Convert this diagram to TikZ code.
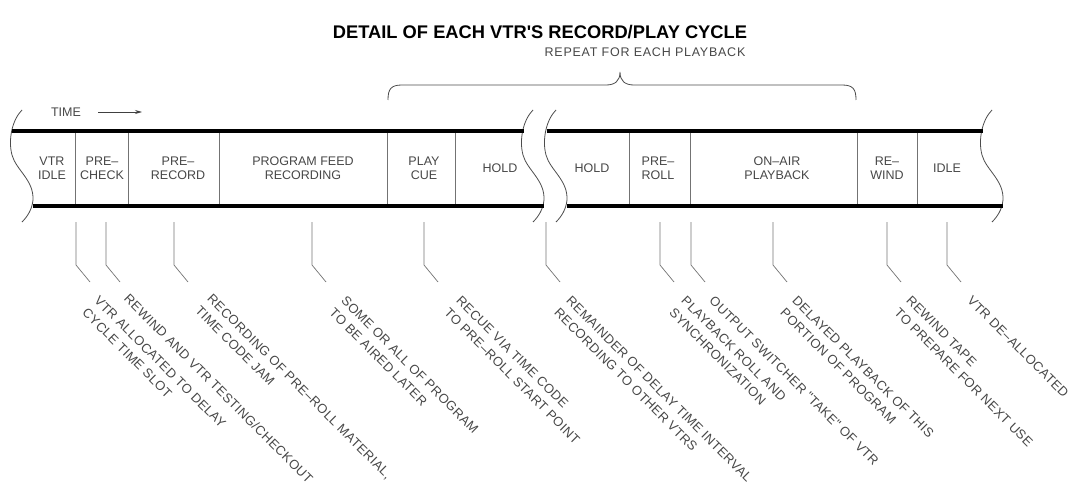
\documentclass[tikz,border=0pt]{standalone}
\usepackage{fontspec}
\setmainfont{Liberation Sans}
\newfontfamily\notefont{Liberation Sans}[LetterSpace=3]
\newfontfamily\widefont{Liberation Sans}[LetterSpace=6]
\usetikzlibrary{arrows.meta}
\newcommand\tapebreak[2]{%
  \draw[ink] (#1,110) coordinate (#2top)
    .. controls (#1-10,120) and (#1-14,140) .. (#1-10,155)
    .. controls (#1-6,170) and (#1+12,180) .. (#1+11,200)
    .. controls (#1+10,210) and (#1+5,217) .. (#1,222) coordinate (#2bot);}
\begin{document}
\begin{tikzpicture}[x=1pt,y=-1pt,
  ink/.style={draw=black!70,line width=0.8pt},
  bandline/.style={line width=3.8pt,draw=black},
  divider/.style={draw=black!55,line width=0.7pt},
  leader/.style={draw=black!55,line width=0.7pt},
  lbl/.style={font=\fontsize{12.5}{14}\selectfont,text=black!72,align=center,inner sep=0pt},
  note/.style={font=\notefont\fontsize{13}{17}\selectfont,text=black!72,align=left,rotate=-45,anchor=north west,inner sep=0pt},
  titlefont/.style={font=\fontsize{18.3}{20}\selectfont\bfseries,text=black}]
\useasboundingbox (0,0) rectangle (1074,484);

% title
\node[titlefont] (title) at (540,32) {DETAIL OF EACH VTR\textquotesingle S RECORD/PLAY CYCLE};
\node[lbl,font=\widefont\fontsize{12.5}{14}\selectfont] (repeat) at (645,52) {REPEAT FOR EACH PLAYBACK};

% brace
\coordinate (bl) at (388,100);
\coordinate (br) at (856,100);
\coordinate (btip) at (620,72);
\draw[ink] (bl) .. controls (388,89) and (391,85) .. (402,85) -- (606,85)
  .. controls (615,85) and (620,81) .. (btip)
  .. controls (620,81) and (625,85) .. (634,85) -- (842,85)
  .. controls (853,85) and (856,89) .. (br);

% time arrow
\node[lbl] (time) at (66,112) {TIME};
\coordinate (ta) at (98,112);
\coordinate (tb) at (142,112);
\draw[draw=black!75,line width=0.8pt,-{Stealth[length=7pt,width=4pt]}] (ta) -- (tb);

% breaks
\tapebreak{22}{L}
\tapebreak{533}{MA}
\tapebreak{556}{MB}
\tapebreak{992}{R}

% band lines
\coordinate (t1) at (12,131); \coordinate (t2) at (523.5,131);
\coordinate (t3) at (546.5,131); \coordinate (t4) at (982.5,131);
\coordinate (b1) at (33,206); \coordinate (b2) at (544,206);
\coordinate (b3) at (567,206); \coordinate (b4) at (1003,206);
\draw[bandline] (t1) -- (t2);
\draw[bandline] (t3) -- (t4);
\draw[bandline] (b1) -- (b2);
\draw[bandline] (b3) -- (b4);

% dividers
\foreach \x in {75,128,219,387,455,629,690,857,917}
  \draw[divider] (\x,133) -- (\x,204);

% segment labels
\node[lbl] (s1) at (52,168) {VTR\\IDLE};
\node[lbl] (s2) at (102,168) {PRE–\\CHECK};
\node[lbl] (s3) at (178,168) {PRE–\\RECORD};
\node[lbl] (s4) at (303,168) {PROGRAM FEED\\RECORDING};
\node[lbl] (s5) at (424,168) {PLAY\\CUE};
\node[lbl] (s6) at (500,168) {HOLD};
\node[lbl] (s7) at (592,168) {HOLD};
\node[lbl] (s8) at (658,168) {PRE–\\ROLL};
\node[lbl] (s9) at (777,168) {ON–AIR\\PLAYBACK};
\node[lbl] (s10) at (887,168) {RE–\\WIND};
\node[lbl] (s11) at (947,168) {IDLE};

% leaders
\foreach \x [count=\i] in {76,106,174,312,424,546,660,691,773,887,947}{
  \coordinate (la\i) at (\x,222);
  \coordinate (lb\i) at (\x,265);
  \coordinate (lc\i) at (\x+14,282);
  \draw[leader] (la\i) -- (lb\i) -- (lc\i);
}

% notes
\node[note] (n1) at (100,295) {VTR ALLOCATED TO DELAY\\CYCLE TIME SLOT};
\node[note] (n2) at (130,293) {REWIND AND VTR TESTING/CHECKOUT};
\node[note] (n3) at (213,293) {RECORDING OF PRE–ROLL MATERIAL,\\TIME CODE JAM};
\node[note] (n4) at (347,295) {SOME OR ALL OF PROGRAM\\TO BE AIRED LATER};
\node[note] (n5) at (462,295) {RECUE VIA TIME CODE\\TO PRE–ROLL START POINT};
\node[note] (n6) at (572,295) {REMAINDER OF DELAY TIME INTERVAL\\RECORDING TO OTHER VTRS};
\node[note] (n7) at (687,295) {PLAYBACK ROLL AND\\SYNCHRONIZATION};
\node[note] (n8) at (715,295) {OUTPUT SWITCHER "TAKE" OF VTR};
\node[note] (n9) at (798,295) {DELAYED PLAYBACK OF THIS\\PORTION OF PROGRAM};
\node[note] (n10) at (912,295) {REWIND TAPE\\TO PREPARE FOR NEXT USE};
\node[note] (n11) at (973,295) {VTR DE–ALLOCATED};
\end{tikzpicture}
\end{document}
